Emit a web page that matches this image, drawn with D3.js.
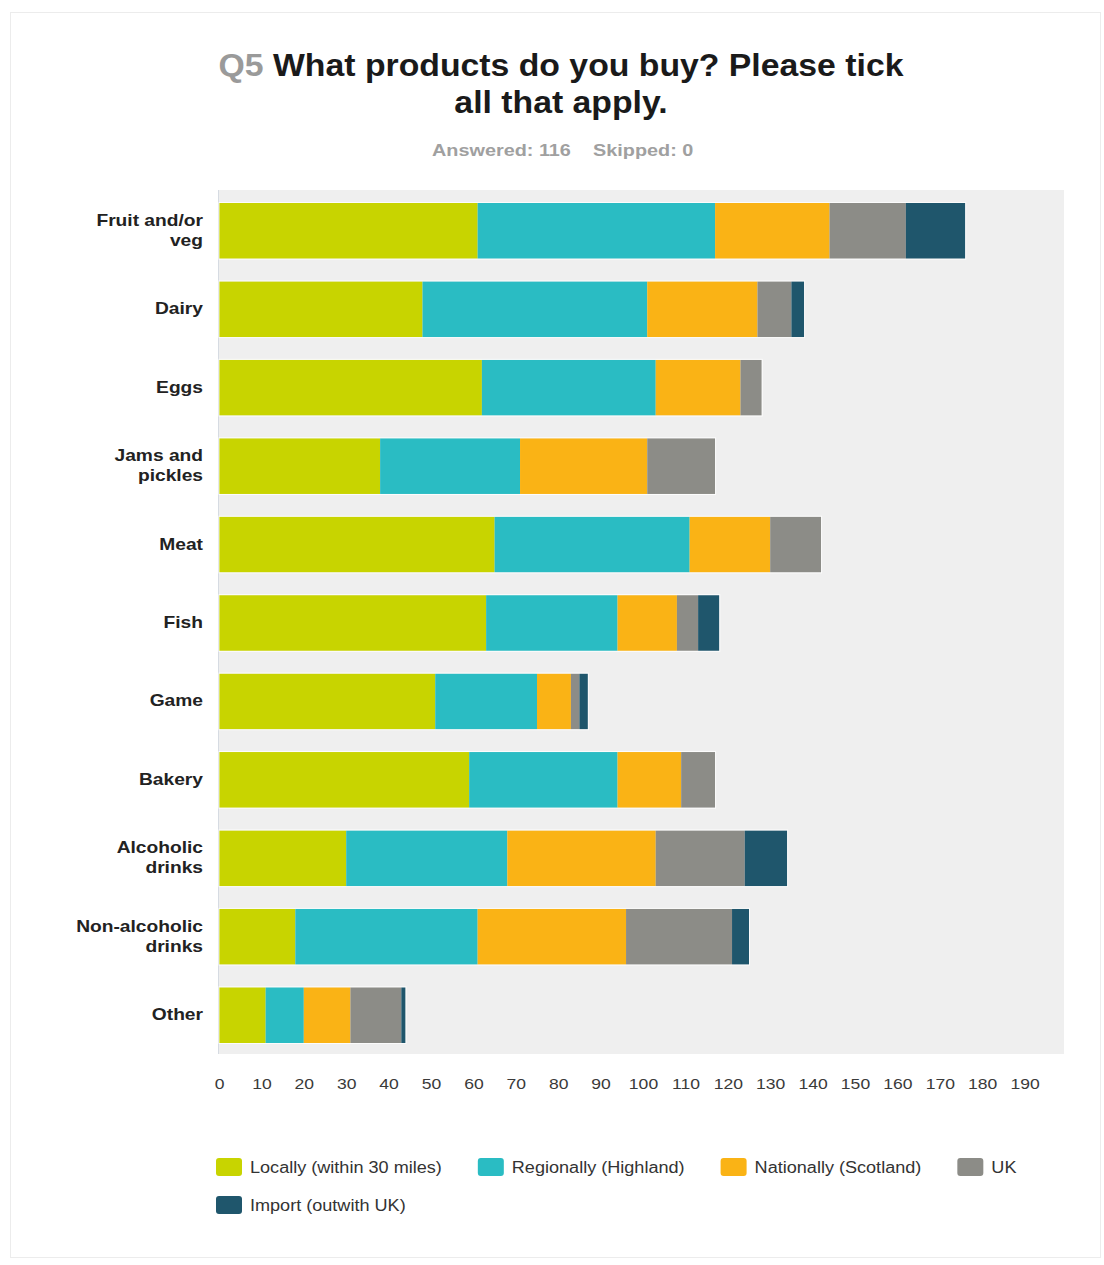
<!DOCTYPE html>
<html>
<head>
<meta charset="utf-8">
<script src="https://cdn.jsdelivr.net/npm/d3@7"></script>
<style>
  html, body { margin: 0; padding: 0; background: #ffffff; }
  svg { display: block; font-family: "Liberation Sans", Arial, sans-serif; }
</style>
</head>
<body>
<svg id="chart" width="1104" height="1265"></svg>
<script>
// Survey answers: where respondents buy each product type
const categories = [
  "Fruit and/or veg", "Dairy", "Eggs", "Jams and pickles", "Meat", "Fish",
  "Game", "Bakery", "Alcoholic drinks", "Non-alcoholic drinks", "Other"
];
const categoryLines = [
  ["Fruit and/or", "veg"], ["Dairy"], ["Eggs"], ["Jams and", "pickles"], ["Meat"], ["Fish"],
  ["Game"], ["Bakery"], ["Alcoholic", "drinks"], ["Non-alcoholic", "drinks"], ["Other"]
];
const seriesNames = [
  "Locally (within 30 miles)", "Regionally (Highland)", "Nationally (Scotland)", "UK", "Import (outwith UK)"
];
const locally    = [61, 48, 62, 38, 65, 63, 51, 59, 30, 18, 11];
const regionally = [56, 53, 41, 33, 46, 31, 24, 35, 38, 43,  9];
const nationally = [27, 26, 20, 30, 19, 14,  8, 15, 35, 35, 11];
const uk         = [18,  8,  5, 16, 12,  5,  2,  8, 21, 25, 12];
const imported   = [14,  3,  0,  0,  0,  5,  2,  0, 10,  4,  1];
const tickValues = [0, 10, 20, 30, 40, 50, 60, 70, 80, 90, 100, 110, 120, 130, 140, 150, 160, 170, 180, 190];
const seriesColors = ["#c8d400", "#2abcc3", "#fab315", "#8c8c87", "#1f566c"];

const svg = d3.select("#chart");

// faint page frame
svg.append("rect")
  .attr("x", 10.5).attr("y", 12.5).attr("width", 1090).attr("height", 1245)
  .attr("fill", "#ffffff").attr("stroke", "#ececec");

// title (glyphs drawn slightly wide)
const title = svg.append("text")
  .attr("transform", "translate(561,0) scale(1.09,1)")
  .attr("text-anchor", "middle")
  .attr("font-size", 31).attr("font-weight", "bold");
const t1 = title.append("tspan").attr("x", 0).attr("y", 76);
t1.append("tspan").attr("fill", "#9a9a9a").text("Q5 ");
t1.append("tspan").attr("fill", "#1a1a1a").text("What products do you buy? Please tick");
title.append("tspan").attr("x", 0).attr("y", 113).attr("fill", "#1a1a1a").text("all that apply.");

const sub = svg.append("g").attr("font-size", 16).attr("font-weight", "bold").attr("fill", "#a0a0a0");
sub.append("text").attr("transform", "translate(432,156) scale(1.24,1)").text("Answered: 116");
sub.append("text").attr("transform", "translate(593,156) scale(1.24,1)").text("Skipped: 0");

// scales
const x = d3.scaleLinear().domain([0, 200]).range([219, 1067]);
const y = d3.scaleBand().domain(categories).range([192, 1054])
  .paddingInner(0.29).paddingOuter(0.14);

// plot background
svg.append("rect")
  .attr("x", x(0)).attr("y", 190)
  .attr("width", x(200) - x(0) - 3).attr("height", 864)
  .attr("fill", "#efefef");
svg.append("line")
  .attr("x1", x(0) - 0.5).attr("x2", x(0) - 0.5).attr("y1", 190).attr("y2", 1054)
  .attr("stroke", "#d6dbe2");

// stacked data
const rows = categories.map((c, i) => ({
  category: c,
  s0: locally[i], s1: regionally[i], s2: nationally[i], s3: uk[i], s4: imported[i]
}));
const stack = d3.stack().keys(["s0", "s1", "s2", "s3", "s4"]);
const layers = stack(rows);

svg.append("g").selectAll("g")
  .data(layers)
  .join("g")
  .attr("fill", (d, i) => seriesColors[i])
  .selectAll("rect")
  .data(d => d.filter(v => v[1] > v[0]))
  .join("rect")
  .attr("x", d => x(d[0]))
  .attr("y", d => y(d.data.category))
  .attr("width", d => x(d[1]) - x(d[0]))
  .attr("height", y.bandwidth());

// white outline round each whole bar
svg.append("g").selectAll("rect")
  .data(rows)
  .join("rect")
  .attr("x", x(0))
  .attr("y", d => y(d.category) - 0.5)
  .attr("width", d => x(d.s0 + d.s1 + d.s2 + d.s3 + d.s4) - x(0) + 0.5)
  .attr("height", y.bandwidth() + 1)
  .attr("fill", "none").attr("stroke", "#ffffff").attr("stroke-opacity", 0.8);

// category labels
const labels = svg.append("g")
  .attr("font-size", 16).attr("font-weight", "bold").attr("fill", "#222")
  .attr("text-anchor", "end");
categories.forEach((c, i) => {
  const lines = categoryLines[i];
  const cy = y(c) + y.bandwidth() / 2;
  const lh = 20;
  const t = labels.append("text")
    .attr("transform", `translate(203,${cy}) scale(1.2,1)`);
  lines.forEach((ln, j) => {
    t.append("tspan")
      .attr("x", 0)
      .attr("y", (j - (lines.length - 1) / 2) * lh + 5)
      .text(ln);
  });
});

// x axis
const xAxis = d3.axisBottom(x).tickValues(tickValues).tickSize(0).tickPadding(0);
const ax = svg.append("g").attr("transform", "translate(0,1078)").call(xAxis);
ax.select(".domain").remove();
ax.selectAll("text")
  .attr("font-family", "'Liberation Sans', Arial, sans-serif")
  .attr("font-size", 15).attr("fill", "#3a3a3a").attr("dy", "0.71em")
  .attr("transform", "scale(1.17,1)");

// legend
const legend = svg.append("g").attr("font-size", 16).attr("fill", "#333");
const legendStretch = 1.13;
let lx = 216, ly = 1167;
seriesNames.forEach((name, i) => {
  const g = legend.append("g");
  const txt = g.append("text")
    .attr("transform", `translate(34,6) scale(${legendStretch},1)`)
    .text(name);
  const w = txt.node().getComputedTextLength() * legendStretch;
  if (lx + 34 + w > 1070) { lx = 216; ly += 38; }
  g.attr("transform", `translate(${lx},${ly})`);
  g.insert("rect", "text")
    .attr("x", 0).attr("y", -9).attr("width", 26).attr("height", 18)
    .attr("rx", 3).attr("fill", seriesColors[i]);
  lx += 34 + w + 36;
});
</script>
</body>
</html>
